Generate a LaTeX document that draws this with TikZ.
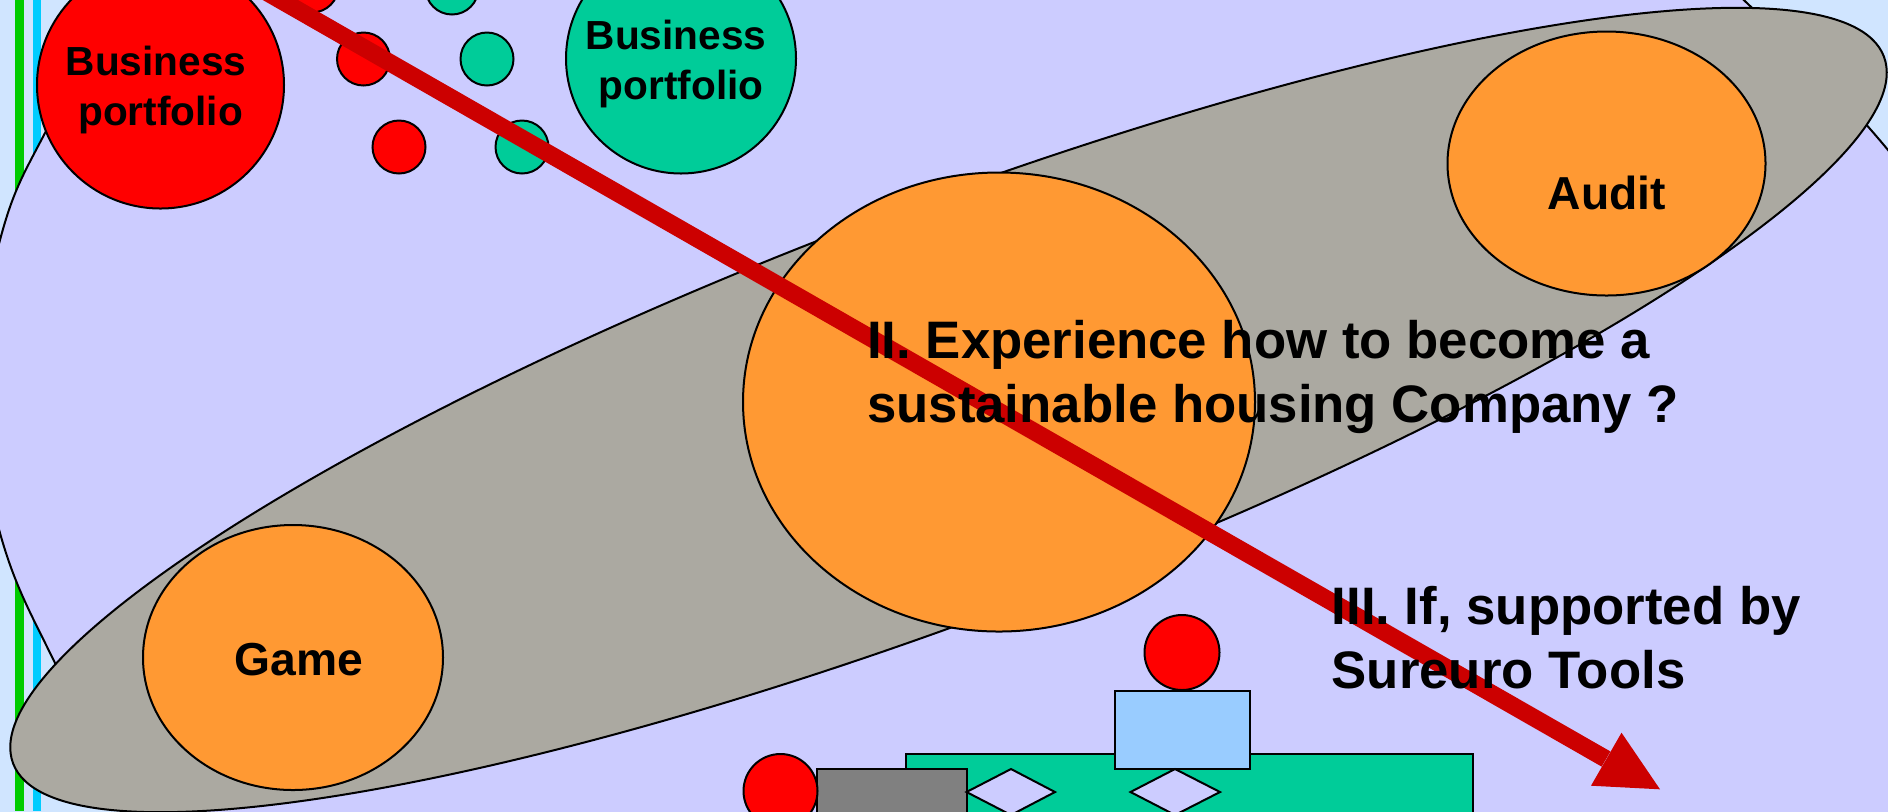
\documentclass[tikz,border=0pt]{standalone}
\usepackage{fontspec}
\setmainfont{Liberation Sans}
\definecolor{paleblue}{HTML}{D0E5FF}
\definecolor{midblue}{HTML}{99CCFF}
\definecolor{lavender}{HTML}{CCCCFF}
\definecolor{stone}{HTML}{ABA9A1}
\definecolor{amber}{HTML}{FF9933}
\definecolor{sea}{HTML}{00CC99}
\definecolor{darkred}{HTML}{CC0000}
\definecolor{stripegreen}{HTML}{00CC00}
\definecolor{stripecyan}{HTML}{00CCFF}
\tikzset{
	outlined/.style={draw=black,line width=0.02cm},
	labelsmall/.style={font=\bfseries\fontsize{11.55pt}{13.94pt}\selectfont,align=left,anchor=base west},
	labelmid/.style={font=\bfseries\fontsize{13.15pt}{16pt}\selectfont,anchor=base west},
	labelbig/.style={font=\bfseries\fontsize{15pt}{18.1pt}\selectfont,align=left,anchor=base west}
}

\begin{document}
\begin{tikzpicture}[x=0.01cm,y=-0.01cm]
		\tikzstyle{every node}+=[inner sep=0pt]
		\useasboundingbox (0,0) rectangle (1888,811);
		\clip (0,0) rectangle (1888,811);
		\shade [top color=paleblue,middle color=midblue,bottom color=paleblue] (0,0) rectangle (1888,811);
		\fill [stripegreen] (15.3,0) rectangle (23.7,811);
		\fill [stripecyan] (33,0) rectangle (41,811);
		\draw [outlined,fill=lavender] (1680,-60) .. controls (1760,15) and (1830,80) .. (1888,150) -- (1960,240) -- (1960,900) -- (180,900) -- plot [smooth,tension=0.7] coordinates {(120,780) (55,663) (0,533) (-22,386) (0,240) (45,133) (110,30) (160,-50)} -- cycle;
		\draw [outlined,fill=stone,rotate around={20.7:(948.5,410)}] (948.5,410) ellipse (1000 and 205);
		\draw [outlined,fill=red] (160.5,85) circle (123.5);
		\draw [outlined,fill=red] (312,-14) circle (26.5);
		\draw [outlined,fill=red] (363.5,59) circle (26.5);
		\draw [outlined,fill=red] (399,147) circle (26.5);
		\draw [outlined,fill=sea] (452,-12) circle (26.5);
		\draw [outlined,fill=sea] (487,59) circle (26.5);
		\draw [outlined,fill=sea] (522,147) circle (26.5);
		\draw [outlined,fill=sea] (681,58.5) circle (115);
		\draw [outlined,fill=amber] (999,402) ellipse (256 and 229.5);
		\draw [outlined,fill=amber] (1606.5,163.5) ellipse (159 and 132);
		\draw [outlined,fill=amber] (293,657.5) ellipse (150 and 132.5);
		\draw [outlined,fill=sea] (906,754) rectangle (1473,830);
		\draw [outlined,fill=midblue] (1114.5,691) rectangle (1250,769);
		\draw [outlined,fill=red] (1182,652.5) circle (37.5);
		\draw [outlined,fill=gray] (817,769) rectangle (966.5,830);
		\draw [outlined,fill=red] (780.5,791) circle (37);
		\draw [outlined,fill=lavender] (966.5,792) -- (1011,769) -- (1055,792) -- (1011,815) -- cycle;
		\draw [outlined,fill=lavender] (1130.5,792) -- (1175,769) -- (1220,792) -- (1175,815) -- cycle;
		\coordinate (arrowstart) at (200,-46);
		\coordinate (arrowbase) at (1606,759);
		\coordinate (headtop) at (1621.5,732.7);
		\coordinate (headlow) at (1591,785.7);
		\coordinate (headtip) at (1660,789.3);
		\draw [darkred,line width=0.175cm] (arrowstart) -- (arrowbase);
		\fill [darkred] (headtop) -- (headlow) -- (headtip) -- cycle;
		\node (redlabel) [labelsmall] at (65,125) {Business\\\hspace*{0.125cm}portfolio};
		\node (sealabel) [labelsmall] at (585,99) {Business\\\hspace*{0.13cm}portfolio};
		\node (gamelabel) [labelmid] at (234,675) {Game};
		\node (auditlabel) [labelmid] at (1547,209) {Audit};
		\node (experience) [labelbig] at (866.5,422) {II. Experience how to become a\\sustainable housing Company ?};
		\node (support) [labelbig] at (1331,688) {III. If, supported by\\Sureuro Tools};
	\end{tikzpicture}
\end{document}
